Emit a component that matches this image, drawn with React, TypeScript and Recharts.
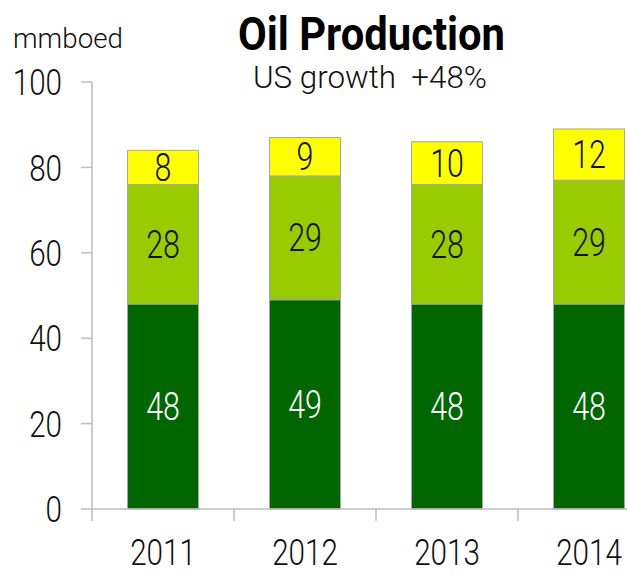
import { Bar, BarChart, LabelList, XAxis, YAxis } from "recharts"

const years = ["2011", "2012", "2013", "2014"]
const baseValues = [48, 49, 48, 48]
const midValues = [28, 29, 28, 29]
const topValues = [8, 9, 10, 12]
const yTicks = [0, 20, 40, 60, 80, 100]

const data = years.map((year, i) => ({
  year,
  base: baseValues[i],
  mid: midValues[i],
  top: topValues[i],
}))

// no condensed face installed, so squeeze Roboto sideways
const font = "Roboto, 'Noto Sans', sans-serif"
const squeeze = 0.8
const axisGray = "#bdbdbd"
const barEdge = "#a6a6a6"

function NarrowText({ x, y, anchor, size, fill, children }: any) {
  return (
    <text
      transform={`translate(${x},${y}) scale(${squeeze},1)`}
      textAnchor={anchor}
      dy="0.355em"
      fontFamily={font}
      fontWeight={300}
      fontSize={size}
      fill={fill}
    >
      {children}
    </text>
  )
}

function YearTick(props: any) {
  const { x, y, payload } = props
  const half = payload && payload.offset ? payload.offset : 71
  return (
    <g>
      <line x1={x - half} x2={x - half} y1={y} y2={y + 12} stroke={axisGray} strokeWidth={1.5} />
      <NarrowText x={x} y={y + 43} anchor="middle" size={37} fill="#111">
        {payload.value}
      </NarrowText>
    </g>
  )
}

function ValueTick(props: any) {
  const { x, y, payload } = props
  return (
    <NarrowText x={x} y={y} anchor="end" size={37} fill="#111">
      {payload.value}
    </NarrowText>
  )
}

function segmentLabel(color: string) {
  return (props: any) => {
    const { x, y, width, height, value } = props
    return (
      <NarrowText x={x + width / 2} y={y + height / 2} anchor="middle" size={38} fill={color}>
        {value}
      </NarrowText>
    )
  }
}

export default function App() {
  return (
    <div
      style={{
        position: "absolute",
        left: 0,
        top: 0,
        width: 627,
        height: 573,
        overflow: "hidden",
        background: "#fff",
      }}
    >
      <BarChart
        width={660}
        height={573}
        data={data}
        margin={{ top: 82, right: 0, bottom: 0, left: 0 }}
        barCategoryGap="25%"
      >
        <XAxis
          dataKey="year"
          height={64}
          tickSize={0}
          tickMargin={0}
          tickLine={false}
          axisLine={{ stroke: axisGray, strokeWidth: 1.5 }}
          tick={<YearTick />}
          interval={0}
        />
        <YAxis
          width={92}
          domain={[0, 100]}
          ticks={yTicks}
          tickSize={11}
          tickMargin={19}
          axisLine={{ stroke: axisGray, strokeWidth: 1.5 }}
          tickLine={{ stroke: axisGray, strokeWidth: 1.5 }}
          tick={<ValueTick />}
        />
        <Bar dataKey="base" stackId="a" fill="#006600" stroke={barEdge} strokeWidth={1} isAnimationActive={false}>
          <LabelList dataKey="base" content={segmentLabel("#fff")} />
        </Bar>
        <Bar dataKey="mid" stackId="a" fill="#99cc00" stroke={barEdge} strokeWidth={1} isAnimationActive={false}>
          <LabelList dataKey="mid" content={segmentLabel("#111")} />
        </Bar>
        <Bar dataKey="top" stackId="a" fill="#ffff00" stroke={barEdge} strokeWidth={1} isAnimationActive={false}>
          <LabelList dataKey="top" content={segmentLabel("#111")} />
        </Bar>
      </BarChart>
      <svg
        width={627}
        height={573}
        style={{ position: "absolute", left: 0, top: 0, pointerEvents: "none" }}
      >
        <text x={13} y={48} textLength={110} lengthAdjust="spacingAndGlyphs" fontFamily={font} fontWeight={300} fontSize={28} fill="#111">
          mmboed
        </text>
        <text x={238} y={50} textLength={267} lengthAdjust="spacingAndGlyphs" fontFamily={font} fontSize={47} fontWeight="bold" fill="#000">
          Oil Production
        </text>
        <text x={253} y={88} textLength={234} lengthAdjust="spacingAndGlyphs" fontFamily={font} fontWeight={300} fontSize={31} fill="#111" xmlSpace="preserve">
          US growth  +48%
        </text>
      </svg>
    </div>
  )
}
